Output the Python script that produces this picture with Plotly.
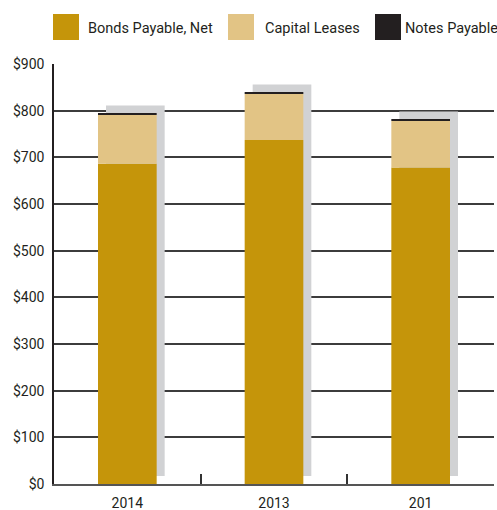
import plotly.graph_objects as go

categories = ["2014", "2013", "201"]
bonds_payable = [686, 737, 678]
capital_leases = [105, 99, 100]
notes_payable = [3, 3, 3]
series_names = ["Bonds Payable, Net", "Capital Leases", "Notes Payable"]
series_colors = ["#c5950a", "#e2c485", "#231f20"]
shadow_color = "#d1d2d4"
y_ticks = [0, 100, 200, 300, 400, 500, 600, 700, 800, 900]
y_tick_labels = ["$" + str(v) for v in y_ticks]

FONT = "Roboto, Liberation Sans, sans-serif"
TEXT = "#231f20"

W, H = 497, 510
L, R, T, B = 54, 3, 64, 26
plot_w = W - L - R
plot_h = H - T - B
y_max = 900
units_per_px = y_max / plot_h
cat_px = plot_w / len(categories)
bar_w = 0.4
shadow_dx = 8 / cat_px
shadow_dy = 8 * units_per_px

totals = [a + b + c for a, b, c in zip(bonds_payable, capital_leases, notes_payable)]
cap_base = bonds_payable
notes_base = [a + b for a, b in zip(bonds_payable, capital_leases)]

fig = go.Figure()
# drop shadow
fig.add_trace(go.Bar(x=categories, y=totals, base=[shadow_dy] * len(categories),
                     width=bar_w, offset=-bar_w / 2 + shadow_dx,
                     marker=dict(color=shadow_color, line=dict(width=0)),
                     showlegend=False, hoverinfo="skip"))
for vals, base, name, col in zip([bonds_payable, capital_leases, notes_payable],
                                 [[0] * len(categories), cap_base, notes_base],
                                 series_names, series_colors):
    fig.add_trace(go.Bar(x=categories, y=vals, base=base, name=name,
                         width=bar_w, offset=-bar_w / 2,
                         marker=dict(color=col, line=dict(width=0)),
                         showlegend=False))

# custom legend (large square swatches); positions given in page pixels
def px_x(p):
    return (p - L) / plot_w

def px_y(p):
    return (H - B - p) / plot_h

legend_items = [(53, 86), (228, 263), (375, 403)]
shapes = []
annotations = []
for (sx, tx), name, col in zip(legend_items, series_names, series_colors):
    shapes.append(dict(type="rect", xref="paper", yref="paper",
                       x0=px_x(sx), x1=px_x(sx + 26), y0=px_y(40), y1=px_y(14),
                       fillcolor=col, line=dict(width=0)))
    annotations.append(dict(text=name, xref="paper", yref="paper",
                            x=px_x(tx), y=px_y(28), xanchor="left", yanchor="middle",
                            showarrow=False, font=dict(family=FONT, size=14.5, color=TEXT)))

fig.update_layout(
    width=W, height=H,
    margin=dict(l=L, r=R, t=T, b=B, pad=0),
    barmode="overlay",
    plot_bgcolor="white", paper_bgcolor="white",
    showlegend=False,
    shapes=shapes, annotations=annotations,
    font=dict(family=FONT, size=14, color=TEXT),
)
fig.update_xaxes(range=[-0.5, len(categories) - 0.5], showline=True, linecolor="#555555",
                 linewidth=2, ticks="inside", tickson="boundaries", ticklen=10,
                 tickcolor="#333333", tickwidth=1.5, showgrid=False, zeroline=False,
                 ticklabelstandoff=5, automargin=False,
                 tickfont=dict(family=FONT, size=14, color=TEXT), fixedrange=True)
fig.update_yaxes(range=[0, y_max], tickvals=y_ticks, ticktext=y_tick_labels,
                 showline=True, linecolor="#231f20", linewidth=1.5,
                 showgrid=True, gridcolor="#3c3c3c", gridwidth=1.5, zeroline=False,
                 ticks="outside", ticklen=5, tickcolor="rgba(0,0,0,0)", automargin=False,
                 tickfont=dict(family=FONT, size=14, color=TEXT), fixedrange=True)

fig.write_html("out.html", config={"displayModeBar": False},
               post_script="document.body.style.margin='0';document.body.style.overflow='hidden';")
